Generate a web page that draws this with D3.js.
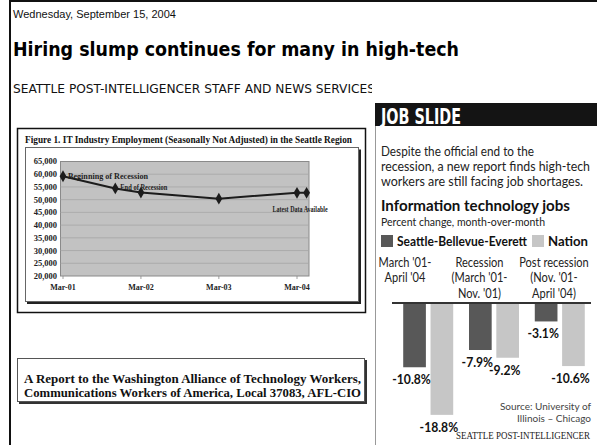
<!DOCTYPE html>
<html><head><meta charset="utf-8">
<script src="https://cdn.jsdelivr.net/npm/d3@7"></script>
<style>body{margin:0;background:#fff} svg{display:block}</style>
</head><body>
<svg id="page" width="597" height="445"></svg>
<script>
// IT industry employment in the Seattle region
const empDates = ["2001-03-01", "2001-11-01", "2002-03-01", "2003-03-01", "2004-03-01", "2004-04-15"];
const empValues = [59200, 54400, 52800, 50400, 52700, 52700];
const empTickDates = ["2001-03-01", "2002-03-01", "2003-03-01", "2004-03-01"];
const empTickLabels = ["Mar-01", "Mar-02", "Mar-03", "Mar-04"];
const empYTicks = [20000, 25000, 30000, 35000, 40000, 45000, 50000, 55000, 60000, 65000];
const empNotes = ["Beginning of Recession", "End of Recession", "Latest Data Available"];
const empNoteIndex = [0, 1, 5];

// Job slide: percent change in IT jobs
const periodLabels = [["March '01-", "April '04"], ["Recession", "(March '01-", "Nov. '01)"], ["Post recession", "(Nov. '01-", "April '04)"]];
const seattleChange = [-10.8, -7.9, -3.1];
const nationChange = [-18.8, -9.2, -10.6];
const seriesNames = ["Seattle-Bellevue-Everett", "Nation"];

const svg = d3.select("#page");
const serif = "'Liberation Serif', 'DejaVu Serif', serif";
const sans = "'Liberation Sans', Arial, sans-serif";
const verdana = "'DejaVu Sans', Verdana, sans-serif";
const humanist = "Lato, 'Open Sans', sans-serif";

// squeeze a text horizontally to mimic a condensed face
function condense(sel, k) {
  sel.each(function () {
    const w = this.getComputedTextLength();
    d3.select(this).attr("textLength", w * k).attr("lengthAdjust", "spacingAndGlyphs");
  });
  return sel;
}

// page frame
svg.append("line").attr("x1", 10).attr("x2", 10).attr("y1", 0).attr("y2", 445).attr("stroke", "#111").attr("stroke-width", 2);
svg.append("line").attr("x1", 10).attr("x2", 597).attr("y1", 1).attr("y2", 1).attr("stroke", "#111").attr("stroke-width", 2);

// article header
svg.append("text").attr("x", 13).attr("y", 18).attr("font-family", sans).attr("font-size", 11).attr("fill", "#111")
  .text("Wednesday, September 15, 2004");
svg.append("text").attr("x", 13).attr("y", 56).attr("font-family", verdana).attr("font-weight", "bold").attr("font-size", 19.5)
  .attr("fill", "#000").attr("textLength", 446).attr("lengthAdjust", "spacingAndGlyphs")
  .text("Hiring slump continues for many in high-tech");
svg.append("text").attr("x", 13).attr("y", 93).attr("font-family", verdana).attr("font-size", 11.5).attr("fill", "#111")
  .attr("textLength", 362).attr("lengthAdjust", "spacingAndGlyphs")
  .text("SEATTLE POST-INTELLIGENCER STAFF AND NEWS SERVICES");

// ---------- Figure 1: line chart ----------
const fig = svg.append("g");
fig.append("rect").attr("x", 17.5).attr("y", 128.5).attr("width", 348).attr("height", 184)
  .attr("fill", "#fff").attr("stroke", "#111").attr("stroke-width", 1.5);
fig.append("text").attr("x", 25).attr("y", 143).attr("font-family", serif).attr("font-weight", "bold").attr("font-size", 10.5)
  .attr("fill", "#111").attr("textLength", 327).attr("lengthAdjust", "spacingAndGlyphs")
  .text("Figure 1.  IT Industry Employment (Seasonally Not Adjusted) in the Seattle Region");
fig.append("rect").attr("x", 27).attr("y", 149.5).attr("width", 334).attr("height", 154.5).attr("fill", "#222");
fig.append("rect").attr("x", 25.5).attr("y", 147.5).attr("width", 333).attr("height", 154).attr("fill", "#fff").attr("stroke", "#666").attr("stroke-width", 1);

const parse = d3.utcParse("%Y-%m-%d");
const x = d3.scaleUtc().domain([parse("2001-03-01"), parse("2004-03-01")]).range([63, 297]);
const y = d3.scaleLinear().domain([20000, 65000]).range([276, 161.5]);

fig.append("rect").attr("x", 60.5).attr("y", y(65000)).attr("width", 248.5).attr("height", y(20000) - y(65000))
  .attr("fill", "#c2c2c2").attr("stroke", "#8a8a8a").attr("stroke-width", 1);
fig.append("g").selectAll("line").data(empYTicks.slice(1, -1)).join("line")
  .attr("x1", 60.5).attr("x2", 309).attr("y1", d => y(d)).attr("y2", d => y(d))
  .attr("stroke", "#a6a6a6").attr("stroke-width", 0.8);

// y axis labels
fig.append("g").selectAll("text").data(empYTicks).join("text")
  .attr("x", 57).attr("y", d => y(d)).attr("dy", "0.35em").attr("text-anchor", "end")
  .attr("font-family", serif).attr("font-weight", "bold").attr("font-size", 8.5).attr("fill", "#222")
  .text(d => d3.format(",")(d));

// x axis ticks and labels
const xTicks = empTickDates.map(parse);
fig.append("g").selectAll("line").data(xTicks).join("line")
  .attr("x1", d => x(d)).attr("x2", d => x(d)).attr("y1", y(20000)).attr("y2", y(20000) + 3)
  .attr("stroke", "#888").attr("stroke-width", 0.8);
fig.append("g").selectAll("text").data(xTicks).join("text")
  .attr("x", d => x(d)).attr("y", 290).attr("text-anchor", "middle")
  .attr("font-family", serif).attr("font-weight", "bold").attr("font-size", 8).attr("fill", "#222")
  .text((d, i) => empTickLabels[i]);

// series
const pts = empDates.map((d, i) => ({date: parse(d), value: empValues[i]}));
fig.append("path").datum(pts)
  .attr("d", d3.line().x(d => x(d.date)).y(d => y(d.value)))
  .attr("fill", "none").attr("stroke", "#1c1c1c").attr("stroke-width", 2);
fig.append("g").selectAll("path").data(pts).join("path")
  .attr("transform", d => `translate(${x(d.date)},${y(d.value)})`)
  .attr("d", d3.symbol(d3.symbolDiamond, 40)).attr("fill", "#1c1c1c");

// annotations
const noteOffsets = [[5, 0], [5, -1], [-34, 16]];
const noteWidths = [80, 47, 55];
fig.append("g").selectAll("text").data(empNotes).join("text")
  .attr("x", (d, i) => x(pts[empNoteIndex[i]].date) + noteOffsets[i][0])
  .attr("y", (d, i) => y(pts[empNoteIndex[i]].value) + noteOffsets[i][1])
  .attr("dy", "0.35em")
  .attr("font-family", serif).attr("font-weight", "bold").attr("font-size", 8).attr("fill", "#222")
  .attr("textLength", (d, i) => noteWidths[i]).attr("lengthAdjust", "spacingAndGlyphs")
  .text(d => d);

// ---------- Report credit box ----------
svg.append("rect").attr("x", 19).attr("y", 360).attr("width", 348).attr("height", 44).attr("fill", "#333");
svg.append("rect").attr("x", 17.5).attr("y", 358.5).attr("width", 347).attr("height", 43).attr("fill", "#fff").attr("stroke", "#555");
svg.append("text").attr("x", 24).attr("y", 383).attr("font-family", serif).attr("font-weight", "bold").attr("font-size", 12.5)
  .attr("fill", "#111").attr("textLength", 337).attr("lengthAdjust", "spacingAndGlyphs")
  .text("A Report to the Washington Alliance of Technology Workers,");
svg.append("text").attr("x", 24).attr("y", 397).attr("font-family", serif).attr("font-weight", "bold").attr("font-size", 12.5)
  .attr("fill", "#111").attr("textLength", 337).attr("lengthAdjust", "spacingAndGlyphs")
  .text("Communications Workers of America, Local 37083, AFL-CIO");

// ---------- Job slide panel ----------
const panel = svg.append("g");
panel.append("rect").attr("x", 372).attr("y", 79).attr("width", 225).attr("height", 366).attr("fill", "#fff");
panel.append("line").attr("x1", 375.5).attr("x2", 375.5).attr("y1", 103).attr("y2", 445).attr("stroke", "#999").attr("stroke-width", 1);
panel.append("rect").attr("x", 375).attr("y", 103).attr("width", 222).attr("height", 23).attr("fill", "#141414");
panel.append("text").attr("x", 381).attr("y", 123.5).attr("font-family", "'DejaVu Sans Condensed', 'DejaVu Sans', sans-serif")
  .attr("font-stretch", "condensed").attr("font-weight", "bold").attr("font-size", 22).attr("fill", "#fff")
  .attr("textLength", 80).attr("lengthAdjust", "spacingAndGlyphs").text("JOB SLIDE");

const intro = [["Despite the official end to the", 153], ["recession, a new report finds high-tech", 209], ["workers are still facing job shortages.", 202]];
panel.append("g").selectAll("text").data(intro).join("text")
  .attr("x", 381).attr("y", (d, i) => 156 + i * 15)
  .attr("font-family", humanist).attr("font-size", 13).attr("fill", "#222")
  .attr("textLength", d => d[1]).attr("lengthAdjust", "spacingAndGlyphs").text(d => d[0]);
panel.append("text").attr("x", 381).attr("y", 211).attr("font-family", humanist).attr("font-weight", "bold").attr("font-size", 15)
  .attr("fill", "#111").attr("textLength", 189).attr("lengthAdjust", "spacingAndGlyphs").text("Information technology jobs");
panel.append("text").attr("x", 381).attr("y", 226).attr("font-family", humanist).attr("font-size", 12)
  .attr("fill", "#222").attr("textLength", 164).attr("lengthAdjust", "spacingAndGlyphs").text("Percent change, month-over-month");

// legend
const barColors = ["#585858", "#c6c6c6"];
const legendX = [381, 532];
const legendW = [130, 40];
seriesNames.forEach((name, i) => {
  panel.append("rect").attr("x", legendX[i]).attr("y", 235).attr("width", 12).attr("height", 12).attr("fill", barColors[i]);
  panel.append("text").attr("x", legendX[i] + 16).attr("y", 245.5).attr("font-family", humanist).attr("font-weight", "bold")
    .attr("font-size", 12.5).attr("fill", "#111").attr("textLength", legendW[i]).attr("lengthAdjust", "spacingAndGlyphs").text(name);
});

// period headers
const head = d3.scalePoint().domain(d3.range(periodLabels.length)).range([405, 554]);
periodLabels.forEach((lines, i) => {
  condense(panel.append("g").selectAll("text").data(lines).join("text")
    .attr("x", head(i)).attr("y", (d, j) => 266.5 + j * 15.5).attr("text-anchor", "middle")
    .attr("font-family", humanist).attr("font-size", 13).attr("fill", "#222").text(d => d), 0.85);
});

// bars
const gx = d3.scaleBand().domain(d3.range(seattleChange.length)).range([394, 594]).paddingInner(0.24).paddingOuter(0.14);
const inner = d3.scaleBand().domain([0, 1]).range([0, gx.bandwidth()]).paddingInner(0.17);
const by = d3.scaleLinear().domain([-20, 0]).range([303 + 20 * 5.95, 303]);
const barData = [];
seattleChange.forEach((v, i) => {
  barData.push({g: i, s: 0, v});
  barData.push({g: i, s: 1, v: nationChange[i]});
});
panel.append("g").selectAll("rect").data(barData).join("rect")
  .attr("x", d => gx(d.g) + inner(d.s)).attr("width", inner.bandwidth())
  .attr("y", by(0)).attr("height", d => by(d.v) - by(0)).attr("fill", d => barColors[d.s]);
panel.append("line").attr("x1", 392).attr("x2", 591).attr("y1", by(0)).attr("y2", by(0)).attr("stroke", "#333").attr("stroke-width", 2);
condense(panel.append("g").selectAll("text").data(barData).join("text")
  .attr("x", d => gx(d.g) + inner(d.s) + inner.bandwidth() / 2 - 3)
  .attr("y", d => by(d.v) + 17).attr("text-anchor", "middle")
  .attr("font-family", humanist).attr("font-weight", "bold").attr("font-size", 13.5).attr("fill", "#111")
  .text(d => d.v.toFixed(1) + "%"), 0.9);

// source & credit
panel.append("text").attr("x", 591).attr("y", 410).attr("text-anchor", "end").attr("font-family", humanist)
  .attr("font-size", 10).attr("fill", "#444").text("Source: University of");
panel.append("text").attr("x", 591).attr("y", 421.5).attr("text-anchor", "end").attr("font-family", humanist)
  .attr("font-size", 10).attr("fill", "#444").text("Illinois – Chicago");
panel.append("text").attr("x", 456).attr("y", 439).attr("font-family", serif).attr("font-size", 11).attr("fill", "#222")
  .attr("textLength", 134).attr("lengthAdjust", "spacingAndGlyphs").text("SEATTLE POST-INTELLIGENCER");
</script>
</body></html>
